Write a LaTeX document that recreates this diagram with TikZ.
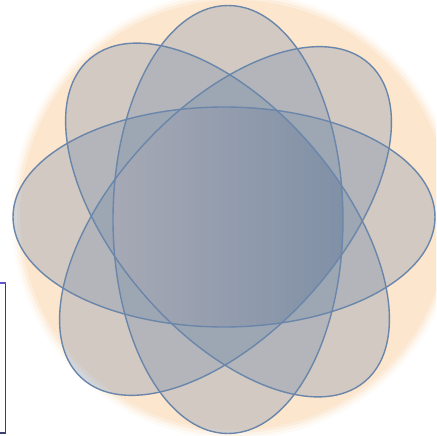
\documentclass[tikz,border=0pt]{standalone}
\definecolor{peach}{RGB}{252,230,206}
\definecolor{elfill}{RGB}{106,133,168}
\definecolor{elline}{RGB}{106,134,170}
\definecolor{cleft}{RGB}{166,169,181}
\definecolor{cright}{RGB}{128,144,166}
\definecolor{shadowgray}{RGB}{239,239,239}
\definecolor{boxtop}{RGB}{96,86,200}
\definecolor{boxside}{RGB}{62,62,110}
\tikzset{
  eH/.style={insert path={(224,219) circle [x radius=211, y radius=110]}},
  eV/.style={insert path={(228,216.5) circle [x radius=115, y radius=214]}},
  eA/.style={insert path={(227.5,216) circle [x radius=212, y radius=112, rotate=-49.5]}},
  eB/.style={insert path={(225.5,215) circle [x radius=213, y radius=112, rotate=47.5]}},
  petal/.style={fill=elfill, fill opacity=0.29},
  rim/.style={draw=elline, line width=1.4pt}
}
\begin{document}
\begin{tikzpicture}[x=1pt,y=1pt]
\useasboundingbox (0,0) rectangle (436,436);
\clip (0,0) rectangle (436,436);
% soft shadow under the disc
\shade[top color=white, middle color=shadowgray, bottom color=white] (0,0) rectangle (436,112);
% peach disc with soft rim
\foreach \r/\o in {224/0.15, 221/0.3, 218/0.5}{
  \fill[peach, opacity=\o] (235,221) circle (\r);
}
\fill[peach] (235,221) circle (215);
% translucent petals
\path[petal] [eH];
\path[petal] [eV];
\path[petal] [eA];
\path[petal] [eB];
% shaded common core
\begin{scope}
  \clip [eH];
  \clip [eV];
  \clip [eA];
  \clip [eB];
  \shade[left color=cleft, right color=cright] (113,0) rectangle (343,436);
\end{scope}
% outlines
\path[rim] [eH];
\path[rim] [eV];
\path[rim] [eA];
\path[rim] [eB];
% partial frame at the left edge
\fill[white] (-2,3) rectangle (5.5,153);
\draw[boxside, line width=1.5pt] (5.5,153) -- (5.5,3) -- (-2,3);
\draw[boxtop, line width=2pt] (-2,153) -- (6.2,153);
\end{tikzpicture}
\end{document}
